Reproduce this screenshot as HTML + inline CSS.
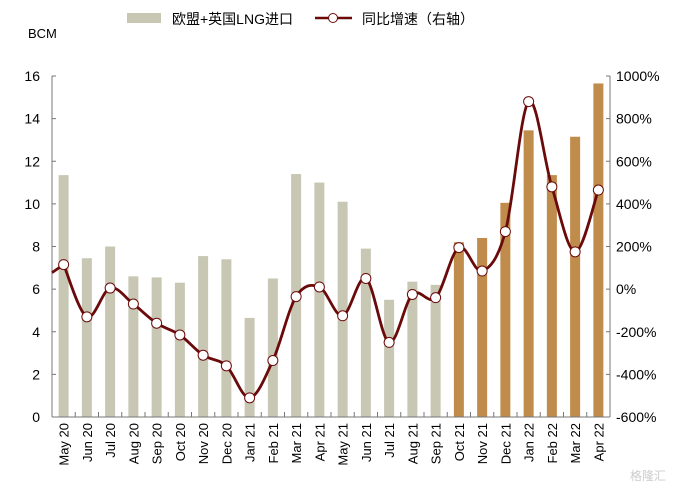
<!DOCTYPE html>
<html><head><meta charset="utf-8"><style>
body{margin:0;background:#fff;}
svg text{font-family:"Liberation Sans","Noto Sans CJK SC",sans-serif;fill:#000;}
</style></head><body>
<svg id="chart" width="685" height="492" viewBox="0 0 685 492" xmlns="http://www.w3.org/2000/svg">
<g>
<rect x="127" y="13" width="34" height="10" fill="#c8c7b4"/>
<text x="172" y="24" font-size="14">欧盟+英国LNG进口</text>
<line x1="315" y1="18" x2="352" y2="18" stroke="#6b0a0a" stroke-width="2.5"/>
<circle cx="333" cy="18" r="4.5" fill="#fff" stroke="#6b0a0a"/>
<text x="362" y="24" font-size="14">同比增速（右轴）</text>
</g>
<text x="28" y="38" font-size="13">BCM</text>
<g id="plot"></g>
<text x="630" y="480" font-size="12" style="fill:#cccccc">格隆汇</text>
</svg>
<script>
const categories=["May 20","Jun 20","Jul 20","Aug 20","Sep 20","Oct 20","Nov 20","Dec 20","Jan 21","Feb 21","Mar 21","Apr 21","May 21","Jun 21","Jul 21","Aug 21","Sep 21","Oct 21","Nov 21","Dec 21","Jan 22","Feb 22","Mar 22","Apr 22"];
const importVolumes=[11.35,7.45,8.0,6.6,6.55,6.3,7.55,7.4,4.65,6.5,11.4,11.0,10.1,7.9,5.5,6.35,6.2,8.2,8.4,10.05,13.45,11.35,13.15,15.65];
const growthRates=[115,-130,5,-70,-160,-215,-310,-360,-510,-335,-35,10,-125,50,-250,-25,-40,195,85,270,880,480,175,465];
const leftTicks=[0,2,4,6,8,10,12,14,16];
const rightTicks=[-600,-400,-200,0,200,400,600,800,1000];
const L=52,R=610,T=76,B=417;
const n=categories.length,bw=(R-L)/n;
const x=i=>L+bw*(i+0.5);
const yL=v=>B-(v-0)/16*(B-T);
const yR=v=>B-(v+600)/1600*(B-T);
const g=document.getElementById('plot');
const NS="http://www.w3.org/2000/svg";
function mk(t,a){const e=document.createElementNS(NS,t);for(const k in a)e.setAttribute(k,a[k]);g.appendChild(e);return e;}
importVolumes.forEach((v,i)=>{
 const r=mk('rect',{x:x(i)-5,y:yL(v),width:10,height:B-yL(v),fill:i>=17?'#c08c4c':'#c8c7b4'});
 
 
});
let a=mk('line',{x1:L,y1:T,x2:L,y2:B,stroke:'#777'});


a=mk('line',{x1:R,y1:T,x2:R,y2:B,stroke:'#777'});


a=mk('line',{x1:L,y1:B,x2:R,y2:B,stroke:'#777'});


leftTicks.forEach(v=>{
 mk('line',{x1:L,y1:yL(v),x2:L+4,y2:yL(v),stroke:'#777'});
 const t=mk('text',{x:L-12,y:yL(v)+5,'font-size':14,'text-anchor':'end'});t.textContent=v;
 
 
});
rightTicks.forEach(v=>{
 mk('line',{x1:R-4,y1:yR(v),x2:R,y2:yR(v),stroke:'#777'});
 const t=mk('text',{x:R+6,y:yR(v)+5,'font-size':14});t.textContent=v+'%';
 
 
});
categories.forEach((c,i)=>{
 mk('line',{x1:L+bw*(i+1),y1:B,x2:L+bw*(i+1),y2:B-5,stroke:'#777'});
 const t=mk('text',{transform:`translate(${x(i)+5},${B+6}) rotate(-90)`,'font-size':13,'text-anchor':'end'});t.textContent=c;
 
 
});
const pts=growthRates.map((v,i)=>[x(i),yR(v)]);
let d=`M${pts[0][0]},${pts[0][1]}`;
for(let i=0;i<pts.length-1;i++){
 const p0=pts[Math.max(0,i-1)],p1=pts[i],p2=pts[i+1],p3=pts[Math.min(pts.length-1,i+2)];
 const k=1/6;
 d+=` C${p1[0]+(p2[0]-p0[0])*k},${p1[1]+(p2[1]-p0[1])*k} ${p2[0]-(p3[0]-p1[0])*k},${p2[1]-(p3[1]-p1[1])*k} ${p2[0]},${p2[1]}`;
}
const ln=mk('path',{d:d,fill:'none',stroke:'#6b0a0a','stroke-width':2.8});


const ext=mk('line',{x1:L,y1:yR(growthRates[0])+8,x2:pts[0][0],y2:pts[0][1],stroke:'#6b0a0a','stroke-width':2.8});


pts.forEach((p,i)=>{
 const c=mk('circle',{cx:p[0],cy:p[1],r:5,fill:'#fff',stroke:'#6b0a0a','stroke-width':1});
 
 
});
</script>
</body></html>
